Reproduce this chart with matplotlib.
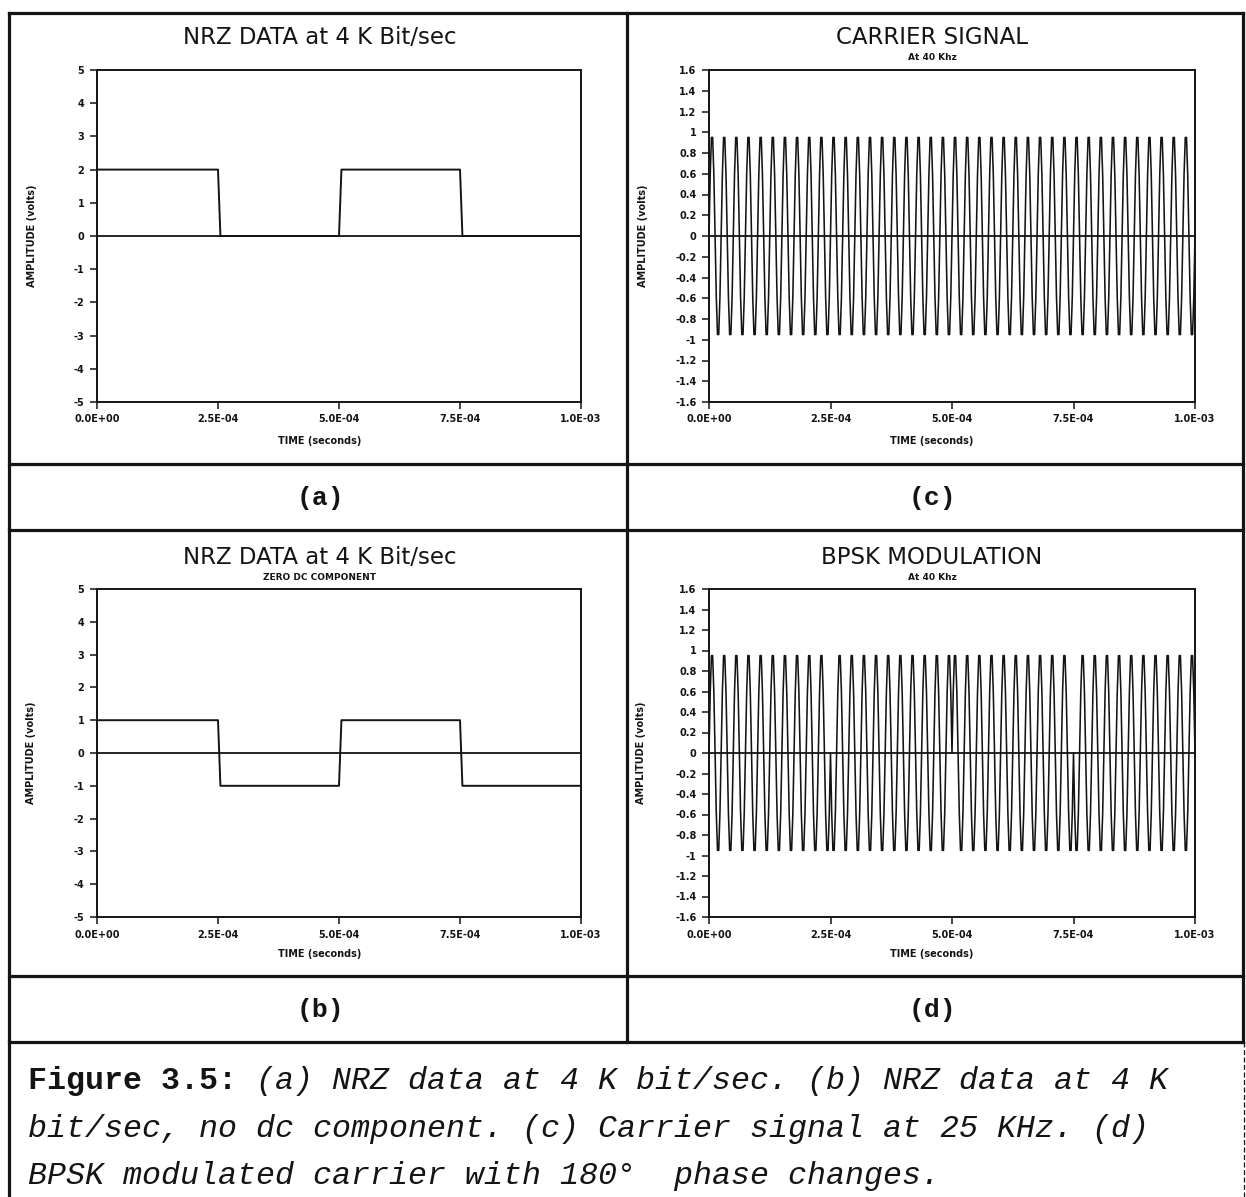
import numpy as np
import matplotlib
matplotlib.use("Agg")
import matplotlib.pyplot as plt
from matplotlib.lines import Line2D
from matplotlib.ticker import FixedLocator, FuncFormatter

W, H, DPI = 1246, 1197, 100

# ---------------- data ----------------
# NRZ data: time breakpoints (s) and levels (V)
nrz_time = [0.0, 2.50e-4, 2.55e-4, 5.00e-4, 5.05e-4, 7.50e-4, 7.55e-4, 1.0e-3]
nrz_a_volts = [2, 2, 0, 0, 2, 2, 0, 0]
nrz_b_volts = [1, 1, -1, -1, 1, 1, -1, -1]

# carrier: one cycle of samples (peaks at ~0.95)
carrier_cycle = [0.0, 0.59, 0.95, 0.95, 0.59, 0.0, -0.59, -0.95, -0.95, -0.59]
carrier_cycles = 40
sample_period = 2.5e-6
bit_levels = [1, -1, 1, -1]
bit_period = 2.5e-4

xticks = [0.0, 2.5e-4, 5.0e-4, 7.5e-4, 1.0e-3]
yticks_nrz = [-5, -4, -3, -2, -1, 0, 1, 2, 3, 4, 5]
yticks_carrier = [-1.6, -1.4, -1.2, -1.0, -0.8, -0.6, -0.4, -0.2, 0.0,
                  0.2, 0.4, 0.6, 0.8, 1.0, 1.2, 1.4, 1.6]

titles = ["NRZ DATA at 4 K Bit/sec", "NRZ DATA at 4 K Bit/sec",
          "CARRIER SIGNAL", "BPSK MODULATION"]
subtitles = [None, "ZERO DC COMPONENT", "At 40 Khz", "At 40 Khz"]
panel_labels = ["(a)", "(b)", "(c)", "(d)"]
caption_bold = "Figure 3.5:"
caption_lines = [" (a) NRZ data at 4 K bit/sec. (b) NRZ data at 4 K",
                 "bit/sec, no dc component. (c) Carrier signal at 25 KHz. (d)",
                 "BPSK modulated carrier with 180\u00b0  phase changes."]

carrier_samples = list(np.tile(carrier_cycle, carrier_cycles)) + [carrier_cycle[0]]
carrier_time = np.arange(len(carrier_samples)) * sample_period
bit_index = np.minimum((carrier_time / bit_period + 1e-9).astype(int), len(bit_levels) - 1)
bpsk_samples = np.array(carrier_samples) * np.array(bit_levels)[bit_index]

# ---------------- figure ----------------
fig = plt.figure(figsize=(W / DPI, H / DPI), dpi=DPI)
fig.patch.set_facecolor("white")


def fx(x):
    return x / W


def fy(y):
    return 1 - y / H


INK = "#141414"

# table grid
grid_lw = 2.3
def hline(y, x0, x1, lw=grid_lw):
    fig.add_artist(Line2D([fx(x0), fx(x1)], [fy(y), fy(y)], color=INK, lw=lw,
                          transform=fig.transFigure))

def vline(x, y0, y1, lw=grid_lw, ls="-"):
    fig.add_artist(Line2D([fx(x), fx(x)], [fy(y0), fy(y1)], color=INK, lw=lw,
                          ls=ls, transform=fig.transFigure))

XL, XM, XR = 9, 627, 1243
for y in [13, 464, 530, 976, 1042]:
    hline(y, XL, XR)
vline(XL, 13, 1197)
vline(XR, 13, 1042)
vline(XR + 1, 1042, 1197, lw=0.9, ls=(0, (4, 2)))
vline(XM, 13, 1042)

# axes geometry in pixels: (left, right, top, bottom)
boxes = {
    0: (97, 581, 70, 402),    # (a)
    1: (97, 581, 589, 917),   # (b)
    2: (709, 1195, 70, 402),  # (c)
    3: (709, 1195, 589, 917), # (d)
}
cell_cx = {0: 320, 1: 320, 2: 932, 3: 932}
title_y = {0: 37, 1: 557, 2: 37, 3: 557}
sub_y = {1: 578, 2: 58, 3: 578}
xlab_y = {0: 441, 1: 954, 2: 441, 3: 954}
ylab_x = {0: 32, 1: 31, 2: 643, 3: 641}
lab_y = {0: 498, 1: 1010, 2: 498, 3: 1010}

xfmt = FuncFormatter(lambda v, p: f"{v:.1E}")


def cfmt(v, p):
    r = round(v, 1)
    if abs(r) < 1e-9:
        return "0"
    return f"{r:g}"


series = {
    0: (nrz_time, nrz_a_volts),
    1: (nrz_time, nrz_b_volts),
    2: (carrier_time, carrier_samples),
    3: (carrier_time, bpsk_samples),
}

tick_font = dict(family="DejaVu Sans", weight="bold", size=7)

for i in range(4):
    l, r, t, b = boxes[i]
    ax = fig.add_axes([fx(l), fy(b), (r - l) / W, (b - t) / H])
    xs, ys = series[i]
    ax.axhline(0, color=INK, lw=1.3, zorder=1)
    ax.plot(xs, ys, color=INK, lw=1.15 if i >= 2 else 1.4, zorder=2)
    ax.set_xlim(0, 1.0e-3)
    if i < 2:
        ax.set_ylim(-5, 5)
        ax.yaxis.set_major_locator(FixedLocator(yticks_nrz))
        ax.yaxis.set_major_formatter(FuncFormatter(lambda v, p: f"{v:g}"))
    else:
        ax.set_ylim(-1.6, 1.6)
        ax.yaxis.set_major_locator(FixedLocator(yticks_carrier))
        ax.yaxis.set_major_formatter(FuncFormatter(cfmt))
    ax.xaxis.set_major_locator(FixedLocator(xticks))
    ax.xaxis.set_major_formatter(xfmt)
    ax.tick_params(direction="out", length=5, width=1.1, color=INK, pad=4)
    for lab in ax.get_xticklabels() + ax.get_yticklabels():
        lab.set_fontproperties(tick_font)
        lab.set_color(INK)
    for s in ax.spines.values():
        s.set_linewidth(1.4)
        s.set_color(INK)

    cx = cell_cx[i]
    fig.text(fx(cx), fy(title_y[i]), titles[i], ha="center", va="center",
             fontsize=16.5, family="DejaVu Sans", color=INK)
    if subtitles[i]:
        fig.text(fx(cx), fy(sub_y[i]), subtitles[i], ha="center", va="center",
                 fontsize=6.5, family="DejaVu Sans", weight="bold", color=INK)
    fig.text(fx(cx), fy(xlab_y[i]), "TIME (seconds)", ha="center", va="center",
             fontsize=7, family="DejaVu Sans", weight="bold", color=INK)
    fig.text(fx(ylab_x[i]), fy((t + b) / 2), "AMPLITUDE (volts)", ha="center",
             va="center", rotation=90, fontsize=7, family="DejaVu Sans",
             weight="bold", color=INK)
    fig.text(fx(cx), fy(lab_y[i]), panel_labels[i], ha="center", va="center",
             fontsize=19, family="Liberation Mono", weight="bold", color=INK)

# caption
cap_fs = 22.8
cap_x = 28
char_w = 0.6 * cap_fs * DPI / 72.0
cap_ys = [1081, 1129, 1176]
fig.text(fx(cap_x), fy(cap_ys[0]), caption_bold, ha="left", va="center",
         fontsize=cap_fs, family="Liberation Mono", weight="bold", color=INK)
fig.text(fx(cap_x + len(caption_bold) * char_w), fy(cap_ys[0]), caption_lines[0],
         ha="left", va="center", fontsize=cap_fs, family="Liberation Mono",
         style="italic", color=INK)
for k in (1, 2):
    fig.text(fx(cap_x), fy(cap_ys[k]), caption_lines[k], ha="left", va="center",
             fontsize=cap_fs, family="Liberation Mono", style="italic", color=INK)

fig.savefig("out.png", dpi=DPI, facecolor="white")
